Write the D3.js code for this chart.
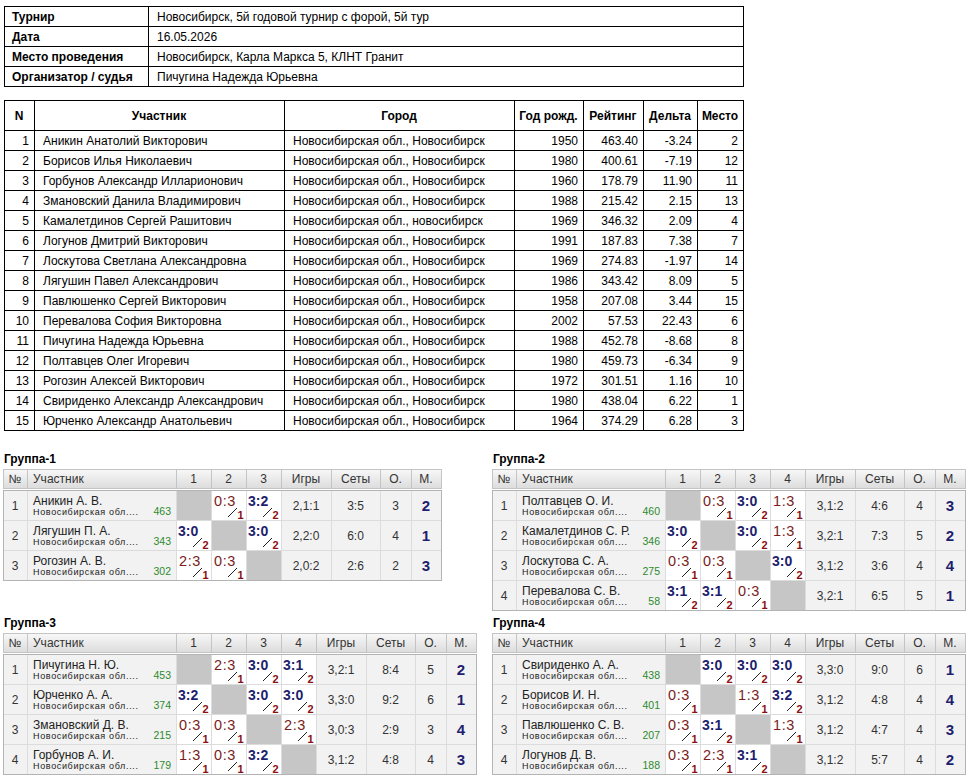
<!DOCTYPE html>
<html>
<head>
<meta charset="utf-8">
<script src="https://cdn.jsdelivr.net/npm/d3@7"></script>
<style>
  body { margin: 0; background: #fff; }
  text { font-family: "Liberation Sans", Arial, sans-serif; }
</style>
</head>
<body>
<svg id="chart"></svg>
<script>
// ---- info block ----
var infoLabels = ["Турнир", "Дата", "Место проведения", "Организатор / судья"];
var infoValues = [
  "Новосибирск, 5й годовой турнир с форой, 5й тур",
  "16.05.2026",
  "Новосибирск, Карла Маркса 5, КЛНТ Гранит",
  "Пичугина Надежда Юрьевна"
];

// ---- participants ----
var headers = ["N", "Участник", "Город", "Год рожд.", "Рейтинг", "Дельта", "Место"];
var players = [
  "Аникин Анатолий Викторович", "Борисов Илья Николаевич", "Горбунов Александр Илларионович",
  "Змановский Данила Владимирович", "Камалетдинов Сергей Рашитович", "Логунов Дмитрий Викторович",
  "Лоскутова Светлана Александровна", "Лягушин Павел Александрович", "Павлюшенко Сергей Викторович",
  "Перевалова София Викторовна", "Пичугина Надежда Юрьевна", "Полтавцев Олег Игоревич",
  "Рогозин Алексей Викторович", "Свириденко Александр Александрович", "Юрченко Александр Анатольевич"
];
var cities = players.map(function (d, i) {
  return i === 4 ? "Новосибирская обл., новосибирск" : "Новосибирская обл., Новосибирск";
});
var birthYears = [1950, 1980, 1960, 1988, 1969, 1991, 1969, 1986, 1958, 2002, 1988, 1980, 1972, 1980, 1964];
var ratings = ["463.40", "400.61", "178.79", "215.42", "346.32", "187.83", "274.83", "343.42", "207.08", "57.53", "452.78", "459.73", "301.51", "438.04", "374.29"];
var deltas = ["-3.24", "-7.19", "11.90", "2.15", "2.09", "7.38", "-1.97", "8.09", "3.44", "22.43", "-8.68", "-6.34", "1.16", "6.22", "6.28"];
var places = [2, 12, 11, 13, 4, 7, 14, 5, 15, 6, 8, 9, 10, 1, 3];

// ---- groups ----
var groupTitles = ["Группа-1", "Группа-2", "Группа-3", "Группа-4"];
var groupNames = [
  ["Аникин А. В.", "Лягушин П. А.", "Рогозин А. В."],
  ["Полтавцев О. И.", "Камалетдинов С. Р.", "Лоскутова С. А.", "Перевалова С. В."],
  ["Пичугина Н. Ю.", "Юрченко А. А.", "Змановский Д. В.", "Горбунов А. И."],
  ["Свириденко А. А.", "Борисов И. Н.", "Павлюшенко С. В.", "Логунов Д. В."]
];
var groupRatings = [
  [463, 343, 302],
  [460, 346, 275, 58],
  [453, 374, 215, 179],
  [438, 401, 207, 188]
];
var groupScores = [
  [[null, "0:3", "3:2"], ["3:0", null, "3:0"], ["2:3", "0:3", null]],
  [[null, "0:3", "3:0", "1:3"], ["3:0", null, "3:0", "1:3"], ["0:3", "0:3", null, "3:0"], ["3:1", "3:1", "0:3", null]],
  [[null, "2:3", "3:0", "3:1"], ["3:2", null, "3:0", "3:0"], ["0:3", "0:3", null, "2:3"], ["1:3", "0:3", "3:2", null]],
  [[null, "3:0", "3:0", "3:0"], ["0:3", null, "1:3", "3:2"], ["0:3", "3:1", null, "1:3"], ["0:3", "2:3", "3:1", null]]
];
var groupGames = [
  ["2,1:1", "2,2:0", "2,0:2"],
  ["3,1:2", "3,2:1", "3,1:2", "3,2:1"],
  ["3,2:1", "3,3:0", "3,0:3", "3,1:2"],
  ["3,3:0", "3,1:2", "3,1:2", "3,1:2"]
];
var groupSets = [
  ["3:5", "6:0", "2:6"],
  ["4:6", "7:3", "3:6", "6:5"],
  ["8:4", "9:2", "2:9", "4:8"],
  ["9:0", "4:8", "4:7", "5:7"]
];
var groupPoints = [
  [3, 4, 2],
  [4, 5, 4, 5],
  [5, 6, 3, 4],
  [6, 4, 4, 4]
];
var groupPlaces = [
  [2, 1, 3],
  [3, 2, 4, 1],
  [2, 1, 4, 3],
  [1, 4, 3, 2]
];

var W = 974, H = 780;
var svg = d3.select("#chart").attr("width", W).attr("height", H);

var defs = svg.append("defs");
var grad = defs.append("linearGradient").attr("id", "hdr").attr("x1", 0).attr("y1", 0).attr("x2", 0).attr("y2", 1);
grad.append("stop").attr("offset", "0%").attr("stop-color", "#f8f8f8");
grad.append("stop").attr("offset", "100%").attr("stop-color", "#dcdcdc");

function cell(g, x, y, w, h, fill, stroke) {
  g.append("rect")
    .attr("x", x + 0.5).attr("y", y + 0.5)
    .attr("width", w).attr("height", h)
    .attr("fill", fill || "none")
    .attr("stroke", stroke || "none");
}

// ---- info table ----
var info = svg.append("g");
var infoY = d3.scaleBand().domain(d3.range(infoLabels.length)).range([6, 86]);
var infoSplit = 148;
infoLabels.forEach(function (lab, i) {
  var y = infoY(i), h = infoY.bandwidth();
  cell(info, 4, y, infoSplit - 4, h, "#fff", "#000");
  cell(info, infoSplit, y, 743 - infoSplit, h, "#fff", "#000");
  info.append("text").attr("x", 12).attr("y", y + 14.5)
    .style("font-size", "12px").style("font-weight", "bold").text(lab);
  info.append("text").attr("x", infoSplit + 9).attr("y", y + 14.5)
    .style("font-size", "12px").text(infoValues[i]);
});

// ---- participants table ----
var main = svg.append("g");
var colW = [30, 250, 230, 69, 60, 54, 46];
var colX = [4].concat(Array.from(d3.cumsum(colW), function (d) { return 4 + d; }));
var headTop = 100, headH = 30;
var rowY = d3.scaleBand().domain(d3.range(players.length)).range([headTop + headH, headTop + headH + 20 * players.length]);

headers.forEach(function (h, c) {
  cell(main, colX[c], headTop, colW[c], headH, "#fff", "#000");
  main.append("text").attr("x", colX[c] + colW[c] / 2).attr("y", headTop + 19.5)
    .attr("text-anchor", "middle")
    .style("font-size", "12px").style("font-weight", "bold").text(h);
});

players.forEach(function (p, i) {
  var y = rowY(i), h = rowY.bandwidth();
  var vals = [i + 1, p, cities[i], birthYears[i], ratings[i], deltas[i], places[i]];
  vals.forEach(function (v, c) {
    cell(main, colX[c], y, colW[c], h, "#fff", "#000");
    var left = (c === 1 || c === 2);
    main.append("text")
      .attr("x", left ? colX[c] + 9 : colX[c] + colW[c] - 5)
      .attr("y", y + 14.5)
      .attr("text-anchor", left ? "start" : "end")
      .style("font-size", "12px")
      .text(v);
  });
});

// ---- groups ----
var groupPos = [[3, 469], [492, 469], [3, 633], [492, 633]];

function drawGroup(k) {
  var x0 = groupPos[k][0], y0 = groupPos[k][1];
  var n = groupNames[k].length;
  var g = svg.append("g");
  var cols = [{ l: "№", w: 24 }, { l: "Участник", w: 149, left: true }];
  d3.range(n).forEach(function (j) { cols.push({ l: String(j + 1), w: 35 }); });
  cols.push({ l: "Игры", w: 50 }, { l: "Сеты", w: 49 }, { l: "О.", w: 31 }, { l: "М.", w: 30 });
  var xs = [x0];
  cols.forEach(function (c) { xs.push(xs[xs.length - 1] + c.w); });
  var right = xs[xs.length - 1];
  var hH = 19;

  g.append("text").attr("x", x0 + 1).attr("y", y0 - 6)
    .style("font-size", "12px").style("font-weight", "bold").text(groupTitles[k]);

  // header
  g.append("rect").attr("x", x0 + 0.5).attr("y", y0 + 0.5)
    .attr("width", right - x0).attr("height", hH)
    .attr("fill", "url(#hdr)").attr("stroke", "#c4c4c4");
  cols.forEach(function (c, ci) {
    if (ci > 0) {
      g.append("line").attr("x1", xs[ci] + 0.5).attr("x2", xs[ci] + 0.5)
        .attr("y1", y0 + 1).attr("y2", y0 + hH).attr("stroke", "#c4c4c4");
    }
    g.append("text")
      .attr("x", c.left ? xs[ci] + 6 : xs[ci] + c.w / 2)
      .attr("y", y0 + 14)
      .attr("text-anchor", c.left ? "start" : "middle")
      .style("font-size", "12px").attr("fill", "#333").text(c.l);
  });

  var bodyTop = y0 + hH + 2;
  var ry = d3.scaleBand().domain(d3.range(n)).range([bodyTop, bodyTop + 30 * n]);
  var rh = ry.bandwidth();

  g.append("rect").attr("x", x0 + 0.5).attr("y", bodyTop + 0.5)
    .attr("width", right - x0).attr("height", 30 * n)
    .attr("fill", "#f2f2f2").attr("stroke", "#b4b4b4");

  d3.range(n).forEach(function (i) {
    var y = ry(i);
    if (i > 0) {
      g.append("line").attr("x1", x0 + 1).attr("x2", right)
        .attr("y1", y + 0.5).attr("y2", y + 0.5).attr("stroke", "#dcdcdc");
    }
    // №
    g.append("text").attr("x", xs[0] + cols[0].w / 2).attr("y", y + 20)
      .attr("text-anchor", "middle").style("font-size", "12px").attr("fill", "#333").text(i + 1);
    // name + region + rating
    g.append("text").attr("x", xs[1] + 6).attr("y", y + 14.5)
      .style("font-size", "12px").attr("fill", "#222").text(groupNames[k][i]);
    g.append("text").attr("x", xs[1] + 6).attr("y", y + 24.5)
      .style("font-size", "9px").style("letter-spacing", "0.65px").attr("fill", "#222")
      .text("Новосибирская обл....");
    g.append("text").attr("x", xs[2] - 5).attr("y", y + 24.5)
      .attr("text-anchor", "end").style("font-size", "10.5px").attr("fill", "#2d8a2d")
      .text(groupRatings[k][i]);

    // score cells
    d3.range(n).forEach(function (j) {
      var cx = xs[2 + j], cw = 35;
      var s = groupScores[k][i][j];
      if (s === null) {
        g.append("rect").attr("x", cx + 1).attr("y", y + 1).attr("width", cw - 1).attr("height", rh - 1)
          .attr("fill", "#c6c6c6");
        return;
      }
      var parts = s.split(":").map(Number);
      var win = parts[0] > parts[1];
      g.append("rect").attr("x", cx + 1).attr("y", y + 1).attr("width", cw - 1).attr("height", rh - 1)
        .attr("fill", "#fff");
      g.append("text").attr("x", cx + (win ? 2 : 3)).attr("y", y + 16)
        .style("font-size", win ? "14px" : "14.5px")
        .style("font-weight", win ? "bold" : "normal")
        .style("letter-spacing", win ? "0px" : "0.6px")
        .attr("fill", win ? "#1e1e6e" : "#7a1c1c")
        .text(s);
      g.append("line").attr("x1", cx + 17).attr("y1", y + 27).attr("x2", cx + 26).attr("y2", y + 18)
        .attr("stroke", "#222").attr("stroke-width", 1);
      g.append("text").attr("x", cx + 26.5).attr("y", y + 29)
        .style("font-size", "11px").style("font-weight", "bold").attr("fill", "#8b1010")
        .text(win ? 2 : 1);
    });

    var c0 = 2 + n;
    [groupGames[k][i], groupSets[k][i], groupPoints[k][i]].forEach(function (v, m) {
      g.append("text").attr("x", xs[c0 + m] + cols[c0 + m].w / 2).attr("y", y + 20)
        .attr("text-anchor", "middle").style("font-size", "12px").attr("fill", "#333").text(v);
    });
    g.append("text").attr("x", xs[c0 + 3] + cols[c0 + 3].w / 2).attr("y", y + 21)
      .attr("text-anchor", "middle").style("font-size", "15px").style("font-weight", "bold")
      .attr("fill", "#1e1e6e").text(groupPlaces[k][i]);
  });

  // vertical separators in body
  cols.forEach(function (c, ci) {
    if (ci === 0) return;
    g.append("line").attr("x1", xs[ci] + 0.5).attr("x2", xs[ci] + 0.5)
      .attr("y1", bodyTop + 1).attr("y2", bodyTop + 30 * n)
      .attr("stroke", "#dcdcdc");
  });
}

d3.range(groupTitles.length).forEach(drawGroup);
</script>
</body>
</html>
